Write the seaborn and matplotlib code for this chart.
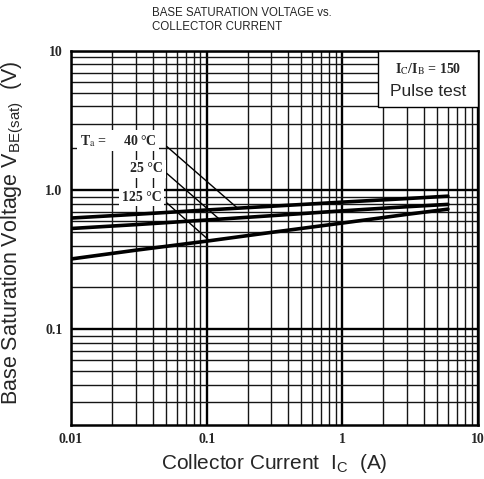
import numpy as np
import pandas as pd
import matplotlib
matplotlib.use('Agg')
import matplotlib.pyplot as plt
import matplotlib.ticker as mticker
from matplotlib.patches import Rectangle
import seaborn as sns

# collector current (A) and V_BE(sat) (V)
ic = [0.01, 0.03, 0.1, 0.3, 1, 3, 6]
vbe_m40 = [0.63, 0.67, 0.72, 0.766, 0.82, 0.87, 0.905]
vbe_25 = [0.53, 0.565, 0.61, 0.655, 0.71, 0.76, 0.79]
vbe_125 = [0.32, 0.37, 0.43, 0.497, 0.58, 0.67, 0.73]
temps = ['-40', '25', '125']

# where each label's leader line touches its curve
lead_x = {'-40': 0.169, '25': 0.124, '125': 0.105}

xticks = [0.01, 0.1, 1, 10]
xticklabels = ['0.01', '0.1', '1', '10']
yticks = [0.1, 1, 10]
yticklabels = ['0.1', '1.0', '10']

sns.set_style('white')
plt.rcParams['font.family'] = ['Liberation Sans', 'DejaVu Sans']
plt.rcParams['mathtext.fontset'] = 'custom'
plt.rcParams['mathtext.rm'] = 'Liberation Sans'
plt.rcParams['mathtext.it'] = 'Liberation Sans'

df = pd.DataFrame({
    'Ic': ic * 3,
    'Vbe': vbe_m40 + vbe_25 + vbe_125,
    'Ta': [t for t in temps for _ in ic],
})

fig = plt.figure(figsize=(4.84, 4.79), dpi=100)
ax = fig.add_axes([0.1467, 0.1127, 0.8409, 0.7808])
ax.set_xscale('log')
ax.set_yscale('log')
ax.set_xlim(0.01, 10)
ax.set_ylim(0.0205, 10)

ax.grid(which='major', color='black', lw=1.7)
ax.grid(which='minor', color='#151515', lw=1.0)
ax.set_axisbelow(True)

sns.lineplot(data=df, x='Ic', y='Vbe', hue='Ta', palette=['black'] * 3,
             lw=2.6, legend=False, ax=ax, zorder=4)

ax.xaxis.set_major_locator(mticker.FixedLocator(xticks))
ax.xaxis.set_major_formatter(mticker.FixedFormatter(xticklabels))
ax.yaxis.set_major_locator(mticker.FixedLocator(yticks))
ax.yaxis.set_major_formatter(mticker.FixedFormatter(yticklabels))
ax.xaxis.set_minor_locator(mticker.LogLocator(base=10, subs=np.arange(2, 10)))
ax.yaxis.set_minor_locator(mticker.LogLocator(base=10, subs=np.arange(2, 10)))
ax.xaxis.set_minor_formatter(mticker.NullFormatter())
ax.yaxis.set_minor_formatter(mticker.NullFormatter())
ax.tick_params(which='both', length=0, pad=6)
for lab in ax.get_xticklabels() + ax.get_yticklabels():
    lab.set_family('Liberation Serif')
    lab.set_fontweight('bold')
    lab.set_fontsize(10)
for s in ax.spines.values():
    s.set_color('black')
    s.set_linewidth(1.8)

ax.set_xlabel('Collector Current  I$_{\\mathrm{C}}$  (A)', fontsize=15, labelpad=4)
ax.set_ylabel('Base Saturation Voltage V$_{\\mathrm{BE(sat)}}$  (V)', fontsize=15.5)
ax.yaxis.set_label_coords(-0.11, 0.515)

fig.text(0.314, 0.985, 'BASE SATURATION VOLTAGE vs.\nCOLLECTOR CURRENT',
         ha='left', va='top', fontsize=8.3, linespacing=1.15)

# condition box in the upper right corner
ax.add_patch(Rectangle((0.754, 0.85), 0.246, 0.15, transform=ax.transAxes,
                       facecolor='white', edgecolor='black', lw=1.0, zorder=5))
ax.text(0.877, 0.952, 'I$_{\\mathrm{C}}$/I$_{\\mathrm{B}}$ = 150', transform=ax.transAxes,
        ha='center', va='center', fontsize=10, family='Liberation Serif',
        fontweight='bold', math_fontfamily='stix', zorder=6)
ax.text(0.877, 0.893, 'Pulse test', transform=ax.transAxes,
        ha='center', va='center', fontsize=12.5, zorder=6)

# temperature labels with leader lines
serif = dict(family='Liberation Serif', fontweight='bold', zorder=6)
box = dict(facecolor='white', edgecolor='none', pad=2)
ax.text(0.0116, 2.27, 'T$_{\\mathrm{a}}$ =     40 °C', ha='left', va='center',
        fontsize=10, bbox=box, math_fontfamily='stix', **serif)
ax.text(0.0475, 1.42, '25 °C', ha='right', va='center',
        fontsize=10, bbox=box, **serif)
ax.text(0.0465, 0.89, '125 °C', ha='right', va='center',
        fontsize=10, bbox=box, **serif)

curves = {'-40': vbe_m40, '25': vbe_25, '125': vbe_125}
starts = {'-40': (0.0508, 2.06), '25': (0.0508, 1.32), '125': (0.0508, 0.81)}
for t in temps:
    lx = lead_x[t]
    ly = 10 ** np.interp(np.log10(lx), np.log10(ic), np.log10(curves[t]))
    ax.annotate('', xy=(lx, ly), xytext=starts[t],
                arrowprops=dict(arrowstyle='-', color='black', lw=1.0,
                                shrinkA=0, shrinkB=0), zorder=5)

fig.savefig('out.png', dpi=100)
